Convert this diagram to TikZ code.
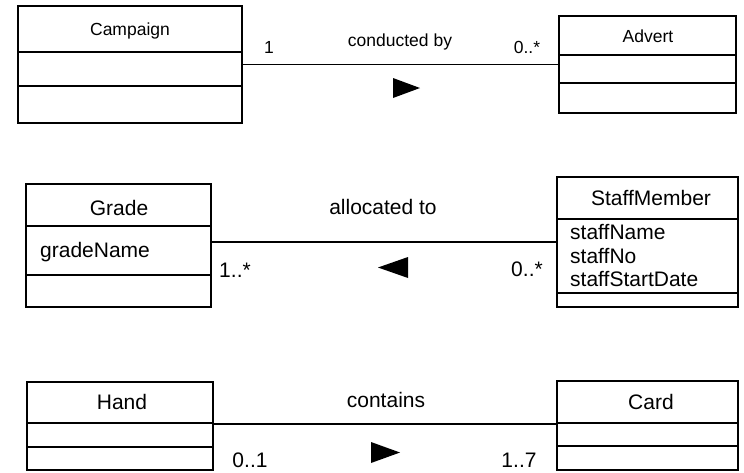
\documentclass[tikz,border=0pt]{standalone}
\usepackage{fontspec}
\setmainfont{Liberation Sans}
\begin{document}
\begin{tikzpicture}[x=1pt,y=-1pt,
  classbox/.style={draw, line width=1.2pt, inner sep=0pt, outer sep=0pt, anchor=north west},
  big/.style={font=\fontsize{21}{24}\selectfont, inner sep=0pt},
  small/.style={font=\fontsize{17.5}{20}\selectfont, inner sep=0pt},
  attr/.style={big, anchor=west},
  assoc/.style={line width=1.2pt},
  divider/.style={line width=1.2pt},
  dirmark/.style={fill=black}]
\useasboundingbox (0,0) rectangle (744,472);

% ---- Campaign -- Advert
\node[classbox, minimum width=224pt, minimum height=117pt] (campaign) at (18,6) {};
\draw[divider] (campaign.west |- 0,52) -- (campaign.east |- 0,52);
\draw[divider] (campaign.west |- 0,86) -- (campaign.east |- 0,86);
\node[small] (campaignname) at (130,31) {Campaign};

\node[classbox, minimum width=177pt, minimum height=97pt] (advert) at (559,16) {};
\draw[divider] (advert.west |- 0,55) -- (advert.east |- 0,55);
\draw[divider] (advert.west |- 0,83) -- (advert.east |- 0,83);
\node[small] (advertname) at (648,36) {Advert};

\draw[assoc] (campaign.east |- advert.west) -- (advert.west);
\node[small] (m1) at (269,47) {1};
\node[small] (conducted) at (400,42) {conducted by};
\node[small] (m2) at (527,47) {0..*};
\fill[dirmark] (393,78) -- (420,88) -- (393,98) -- cycle;

% ---- Grade -- StaffMember
\node[classbox, minimum width=185pt, minimum height=123pt] (grade) at (26,184) {};
\draw[divider] (grade.west |- 0,226) -- (grade.east |- 0,226);
\draw[divider] (grade.west |- 0,275) -- (grade.east |- 0,275);
\node[big] (gradename) at (119,208) {Grade};
\node[attr] (gradeattr) at (40,252) {gradeName};

\node[classbox, minimum width=181pt, minimum height=130pt] (staff) at (557,177) {};
\draw[divider] (staff.west |- 0,219) -- (staff.east |- 0,219);
\draw[divider] (staff.west |- 0,293) -- (staff.east |- 0,293);
\node[big] (staffname) at (651,198) {StaffMember};
\node[attr] (sa1) at (570,232) {staffName};
\node[attr] (sa2) at (570,256) {staffNo};
\node[attr] (sa3) at (570,279) {staffStartDate};

\draw[assoc] (grade.east |- staff.west) -- (staff.west);
\node[big] (allocated) at (383,207) {allocated to};
\node[big] (m3) at (235,270) {1..*};
\node[big] (m4) at (527,269) {0..*};
\fill[dirmark] (408,257) -- (378,267.5) -- (408,278) -- cycle;

% ---- Hand -- Card
\node[classbox, minimum width=186pt, minimum height=88pt] (hand) at (27,382) {};
\draw[divider] (hand.west |- 0,423) -- (hand.east |- 0,423);
\draw[divider] (hand.west |- 0,447) -- (hand.east |- 0,447);
\node[big] (handname) at (122,402) {Hand};

\node[classbox, minimum width=181pt, minimum height=89pt] (card) at (557,381) {};
\draw[divider] (card.west |- 0,423) -- (card.east |- 0,423);
\draw[divider] (card.west |- 0,446) -- (card.east |- 0,446);
\node[big] (cardname) at (651,402) {Card};

\draw[assoc] (hand.east |- 0,424) -- (card.west |- 0,424);
\node[big] (contains) at (386,400) {contains};
\node[big] (m5) at (250,460) {0..1};
\node[big] (m6) at (519,460) {1..7};
\fill[dirmark] (371,442) -- (400,452.5) -- (371,463) -- cycle;
\end{tikzpicture}
\end{document}
